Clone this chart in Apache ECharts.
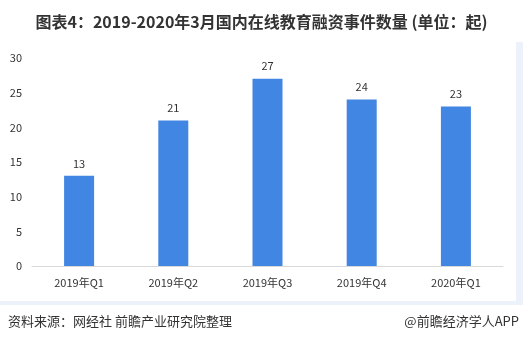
<!DOCTYPE html>
<html>
<head>
<meta charset="utf-8">
<script src="https://cdn.jsdelivr.net/npm/echarts@6/dist/echarts.min.js"></script>
<style>
html,body{margin:0;padding:0;background:#fff;}
#chart{width:523px;height:344px;}
</style>
</head>
<body>
<div id="chart"></div>
<script>
// Online-education financing deals per quarter
const categories = ['2019年Q1', '2019年Q2', '2019年Q3', '2019年Q4', '2020年Q1'];
const dealCounts = [13, 21, 27, 24, 23];
const yTicks = [0, 5, 10, 15, 20, 25, 30];

const chart = echarts.init(document.getElementById('chart'), null, { renderer: 'canvas' });
const fontCN = '"Microsoft YaHei", "Noto Sans CJK SC", sans-serif';

chart.setOption({
  animation: false,
  backgroundColor: '#ffffff',
  title: {
    text: '图表4：2019-2020年3月国内在线教育融资事件数量 (单位：起)',
    left: 'center',
    top: 9,
    textStyle: { fontFamily: fontCN, fontSize: 16, fontWeight: 'bold', color: '#333333' }
  },
  graphic: [
    { type: 'rect', shape: { x: 516, y: 42, width: 7, height: 263 }, style: { fill: '#edf1f9' }, silent: true },
    { type: 'rect', shape: { x: 0, y: 301, width: 523, height: 4 }, style: { fill: '#edf1f9' }, silent: true },
    {
      type: 'text', left: 8, top: 315,
      style: { text: '资料来源：网经社 前瞻产业研究院整理', fontFamily: fontCN, fontSize: 13, fill: '#333333' }
    },
    {
      type: 'text', right: 4, top: 315,
      style: { text: '@前瞻经济学人APP', fontFamily: fontCN, fontSize: 13, fill: '#333333' }
    }
  ],
  grid: { left: 32, right: 20, top: 58, bottom: 78 },
  xAxis: {
    type: 'category',
    data: categories,
    axisLine: { lineStyle: { color: '#d9d9d9', width: 1 } },
    axisTick: { show: false },
    axisLabel: { color: '#333333', fontSize: 11, fontFamily: fontCN, margin: 11 }
  },
  yAxis: {
    type: 'value',
    min: yTicks[0],
    max: yTicks[yTicks.length - 1],
    interval: yTicks[1] - yTicks[0],
    axisLine: { show: false },
    axisTick: { show: false },
    splitLine: { show: false },
    axisLabel: { color: '#333333', fontSize: 11, fontFamily: fontCN, margin: 10 }
  },
  series: [{
    type: 'bar',
    data: dealCounts,
    barWidth: 30,
    itemStyle: { color: '#4286e3' },
    label: {
      show: true,
      position: 'top',
      distance: 7,
      color: '#333333',
      fontSize: 11,
      fontFamily: fontCN
    }
  }]
});
</script>
</body>
</html>
